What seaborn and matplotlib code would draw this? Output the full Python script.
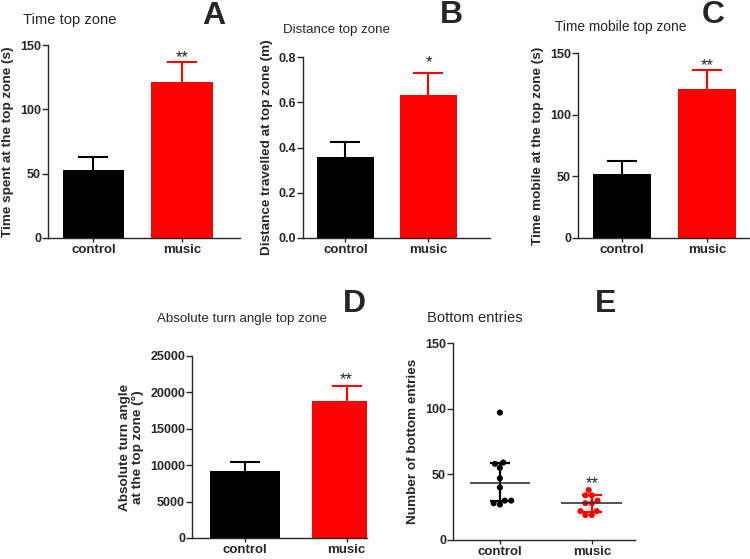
import matplotlib
matplotlib.use('Agg')
import matplotlib.pyplot as plt
import numpy as np
import pandas as pd
import seaborn as sns

# Dados
groups = ['control', 'music']
colors = ['#000000', '#ff0000']

time_top = [52.5, 121]
time_top_err = [10.5, 15.5]

dist_top = [0.36, 0.63]
dist_top_err = [0.065, 0.10]

mobile_top = [52, 121]
mobile_top_err = [10.5, 15.5]

turn_top = [9200, 18800]
turn_top_err = [1300, 2100]

entries_control = [97, 59, 58, 55, 47, 40, 30, 30, 28, 27]
entries_music = [38, 34, 34, 30, 28, 28, 22, 22, 19, 19]

sns.set_style('ticks')
plt.rcParams['font.family'] = ['Liberation Sans', 'DejaVu Sans']
plt.rcParams['axes.linewidth'] = 1.0

fig = plt.figure(figsize=(7.5, 5.59), dpi=100)
W, H = 750, 559


def add_ax(left, top, right, bottom):
    return fig.add_axes([left / W, 1 - bottom / H, (right - left) / W, (bottom - top) / H])


def style_ax(ax, ylabel, ylim, yticks, xlim):
    sns.despine(ax=ax)
    ax.set_ylim(*ylim)
    ax.set_yticks(yticks)
    ax.set_xlim(*xlim)
    ax.set_xlabel('')
    ax.set_ylabel(ylabel, fontsize=9.7, fontweight='bold', labelpad=4)
    ax.tick_params(axis='y', labelsize=9, width=1, length=4, pad=1)
    ax.tick_params(axis='x', labelsize=9.5, width=1, length=3, pad=1)
    for lab in ax.get_xticklabels() + ax.get_yticklabels():
        lab.set_fontweight('bold')


def upper_err(ax, x, y, e, color, capsize):
    # so a barra superior (sem o traco inferior)
    _, caps, _ = ax.errorbar(x, y, yerr=[[0], [e]], color=color, capsize=capsize,
                             elinewidth=1.5, capthick=1.5, zorder=1)
    caps[0].set_visible(False)


def bar_panel(ax, values, errs, ylabel, ylim, yticks, xlim, star, star_off):
    df = pd.DataFrame({'group': groups, 'value': values})
    sns.barplot(data=df, x='group', y='value', hue='group', palette=colors,
                dodge=False, legend=False, width=0.69, errorbar=None, ax=ax,
                saturation=1, edgecolor='none')
    for i, (v, e) in enumerate(zip(values, errs)):
        upper_err(ax, i, v, e, colors[i], 10.5)
    i = 1
    ax.annotate(star, xy=(i, values[i] + errs[i]), xytext=(0, star_off),
                textcoords='offset points', ha='center', va='baseline',
                fontsize=12, color='#222222')
    style_ax(ax, ylabel, ylim, yticks, xlim)


# A
axA = add_ax(48, 45, 240, 238)
bar_panel(axA, time_top, time_top_err, 'Time spent at the top zone (s)',
          (0, 150), [0, 50, 100, 150], (-0.514, 1.655), '**', 0)

# B
axB = add_ax(303, 57, 490, 238)
bar_panel(axB, dist_top, dist_top_err, 'Distance travelled at top zone (m)',
          (0, 0.8), [0, 0.2, 0.4, 0.6, 0.8], (-0.51, 1.74), '*', 4)
axB.set_yticklabels(['0.0', '0.2', '0.4', '0.6', '0.8'], fontweight='bold')

# C
axC = add_ax(578, 53, 750, 238)
bar_panel(axC, mobile_top, mobile_top_err, 'Time mobile at the top zone (s)',
          (0, 150), [0, 50, 100, 150], (-0.52, 1.51), '**', 0)

# D
axD = add_ax(192, 356, 367, 538)
bar_panel(axD, turn_top, turn_top_err, 'Absolute turn angle\nat the top zone (°)',
          (0, 25000), [0, 5000, 10000, 15000, 20000, 25000], (-0.52, 1.2), '**', 1)

# E - mediana com intervalo interquartil
axE = add_ax(453, 343, 635, 540)
df_e = pd.DataFrame({
    'group': ['control'] * len(entries_control) + ['music'] * len(entries_music),
    'value': entries_control + entries_music,
})
sns.swarmplot(data=df_e, x='group', y='value', hue='group', palette=colors,
              size=4.4, legend=False, ax=axE, zorder=3)
for i, vals in enumerate([entries_control, entries_music]):
    q1, med, q3 = np.percentile(vals, [25, 50, 75], method='weibull')
    axE.errorbar(i, med, yerr=[[med - q1], [q3 - med]], color=colors[i],
                 capsize=7.5, elinewidth=1.6, capthick=1.6, zorder=2)
    axE.hlines(med, i - 0.33, i + 0.33, color='#333333', lw=1.2, zorder=4)
q3_music = np.percentile(entries_music, 75, method='weibull')
axE.annotate('**', xy=(1, q3_music), xytext=(0, 5), textcoords='offset points',
             ha='center', va='baseline', fontsize=12, color='#222222')
style_ax(axE, 'Number of bottom entries', (0, 150), [0, 50, 100, 150], (-0.51, 1.47))

# Titulos e letras dos paineis
titles = [('Time top zone', 23, 20, 10.6), ('Distance top zone', 283, 30, 9.6),
          ('Time mobile top zone', 555, 27, 9.9),
          ('Absolute turn angle top zone', 157, 319, 9.6),
          ('Bottom entries', 427, 318, 10.6)]
for t, x, y, fs in titles:
    fig.text(x / W, 1 - y / H, t, fontsize=fs, ha='left', va='center')

letters = [('A', 214, 16), ('B', 451, 15), ('C', 713, 15), ('D', 354, 304), ('E', 606, 304)]
for t, x, y in letters:
    fig.text(x / W, 1 - y / H, t, fontsize=23, fontweight='bold', ha='center', va='center')

fig.savefig('out.png', dpi=100)
